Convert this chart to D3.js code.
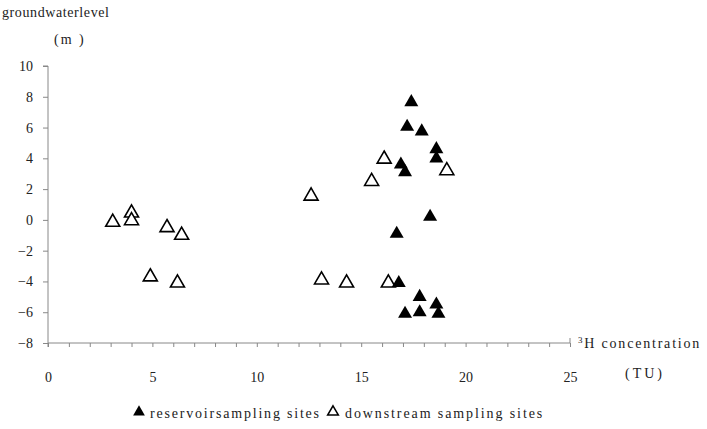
<!DOCTYPE html>
<html><head><meta charset="utf-8">
<script src="https://cdn.jsdelivr.net/npm/d3@7"></script>
<style>body{margin:0;background:#fff}svg{display:block}text{font-family:"Liberation Serif","DejaVu Serif",serif;fill:#222}</style>
</head><body><svg id="c" width="707" height="429"></svg>
<script>
const reservoirX = [17.4,17.2,17.9,18.6,18.6,16.9,17.1,18.3,16.7,16.8,17.8,18.6,17.1,17.8,18.7];
const reservoirY = [7.65,6.05,5.75,4.6,4.0,3.6,3.1,0.2,-0.9,-4.1,-5.0,-5.5,-6.1,-6.0,-6.1];
const downstreamX = [3.1,4.0,4.0,5.7,6.4,4.9,6.2,12.6,13.1,14.3,16.3,16.1,15.5,19.1];
const downstreamY = [-0.15,0.45,-0.05,-0.5,-1.0,-3.7,-4.1,1.55,-3.9,-4.1,-4.1,3.95,2.5,3.2];
const xTicks = [0,5,10,15,20,25];
const yTicks = [10,8,6,4,2,0,-2,-4,-6,-8];

const svg = d3.select("#c");
const x = d3.scaleLinear().domain([0,25]).range([48,570]);
const y = d3.scaleLinear().domain([-8,10]).range([343,66]);

// y axis
const ya = svg.append("g").attr("transform","translate(48,0)")
  .call(d3.axisLeft(y).tickValues(yTicks).tickSize(5).tickPadding(10).tickFormat(d3.format("d")));
ya.select(".domain").attr("stroke","#888").attr("d","M-5,"+y(10)+"H0V"+(y(-8)+4));
ya.selectAll(".tick line").attr("stroke","#888");
ya.selectAll(".tick text").attr("font-size",14).attr("fill","#222").style("font-family","Liberation Serif");

// x axis
const xa = svg.append("g").attr("transform","translate(0,"+y(-8)+")")
  .call(d3.axisBottom(x).tickValues(d3.range(0,26)).tickSize(4).tickFormat(d => xTicks.includes(d) ? d : ""));
xa.select(".domain").attr("stroke","#888").attr("d","M"+x(0)+",0H"+x(25)+"V-5");
xa.selectAll(".tick line").attr("stroke","#888");
xa.selectAll(".tick text").attr("font-size",14).attr("fill","#222").attr("y",29).style("font-family","Liberation Serif");

// axis titles
svg.append("text").attr("x",2).attr("y",17).attr("font-size",14).attr("letter-spacing",0.6).text("groundwaterlevel");
svg.append("text").attr("x",54).attr("y",44).attr("font-size",14).attr("letter-spacing",2).text("(m )");
const xt = svg.append("text").attr("x",578).attr("y",348).attr("font-size",14).attr("letter-spacing",1.8);
xt.append("tspan").attr("font-size",9).attr("dy",-5).text("3");
xt.append("tspan").attr("dy",5).text("H  concentration");
svg.append("text").attr("x",625).attr("y",378).attr("font-size",14).attr("letter-spacing",3).text("(TU)");

const tri = d3.symbol().type(d3.symbolTriangle).size(85);
svg.append("g").selectAll("path").data(downstreamX).join("path")
  .attr("d",tri).attr("transform",(d,i)=>"translate("+x(d)+","+y(downstreamY[i])+")")
  .attr("fill","#fff").attr("stroke","#000").attr("stroke-width",1.6);
svg.append("g").selectAll("path").data(reservoirX).join("path")
  .attr("d",tri).attr("transform",(d,i)=>"translate("+x(d)+","+y(reservoirY[i])+")")
  .attr("fill","#000");

// legend
svg.append("path").attr("d",d3.symbol().type(d3.symbolTriangle).size(60)).attr("transform","translate(139,412)").attr("fill","#000");
svg.append("text").attr("x",150).attr("y",418).attr("font-size",14).attr("letter-spacing",1.8).text("reservoirsampling sites");
svg.append("path").attr("d",d3.symbol().type(d3.symbolTriangle).size(50)).attr("transform","translate(333,412)").attr("fill","#fff").attr("stroke","#000").attr("stroke-width",1.5);
svg.append("text").attr("x",345).attr("y",418).attr("font-size",14).attr("letter-spacing",1.9).text("downstream sampling sites");
</script></body></html>
